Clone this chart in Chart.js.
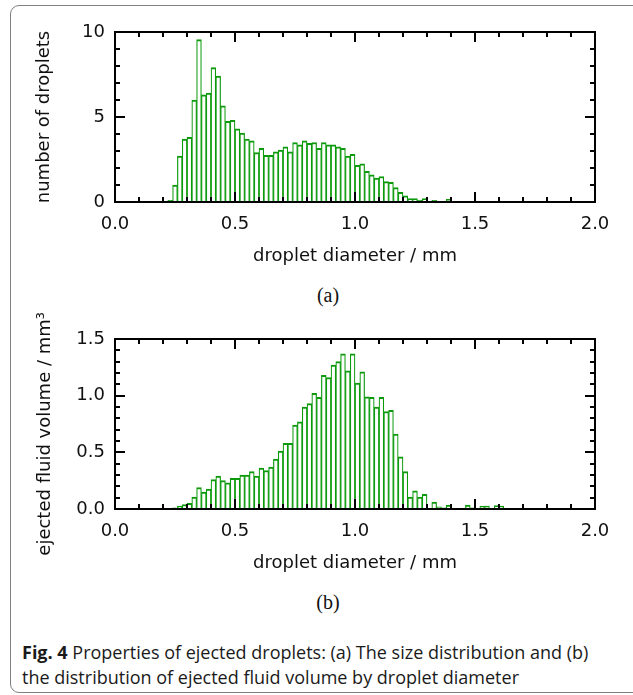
<!DOCTYPE html>
<html>
<head>
<meta charset="utf-8">
<script src="https://cdn.jsdelivr.net/npm/chart.js@4.4.1/dist/chart.umd.min.js"></script>
<style>
  html, body { margin: 0; padding: 0; background: #fff; }
  body { width: 633px; height: 695px; position: relative; overflow: hidden; }
  .frame { position: absolute; left: 10px; top: 5px; width: 700px; height: 686px;
           border: 1.5px solid #808080; border-radius: 9px; }
  .panel { position: absolute; left: 0; }
  .sub { position: absolute; width: 60px; text-align: center; color: #111;
         font-family: "Liberation Serif", "DejaVu Serif", serif; font-size: 20px; }
  .caption { position: absolute; left: 22px; top: 640px; width: 608px; color: #1a1a1a;
             font-family: "Liberation Sans Narrow", "Open Sans", sans-serif;
             font-size: 18px; line-height: 25px; }
</style>
</head>
<body>
<div class="frame"></div>
<canvas id="sizeDist" class="panel" width="633" height="267" style="top:0"></canvas>
<div class="sub" style="left:298px; top:284px">(a)</div>
<canvas id="volumeDist" class="panel" width="633" height="267" style="top:307px"></canvas>
<div class="sub" style="left:298px; top:591px">(b)</div>
<div class="caption"><b>Fig. 4</b> Properties of ejected droplets: (a) The size distribution and (b)<br>the distribution of ejected fluid volume by droplet diameter</div>

<script>
// lower edge of each 0.02 mm diameter bin
const binStart = [
  0.22, 0.24, 0.26, 0.28, 0.30, 0.32, 0.34, 0.36, 0.38, 0.40,
  0.42, 0.44, 0.46, 0.48, 0.50, 0.52, 0.54, 0.56, 0.58, 0.60,
  0.62, 0.64, 0.66, 0.68, 0.70, 0.72, 0.74, 0.76, 0.78, 0.80,
  0.82, 0.84, 0.86, 0.88, 0.90, 0.92, 0.94, 0.96, 0.98, 1.00,
  1.02, 1.04, 1.06, 1.08, 1.10, 1.12, 1.14, 1.16, 1.18, 1.20,
  1.22, 1.24, 1.26, 1.28, 1.30, 1.32, 1.34, 1.36, 1.38, 1.40,
  1.42, 1.44, 1.46, 1.48, 1.50, 1.52, 1.54, 1.56, 1.58, 1.60
];
const binWidth = 0.02;

// (a) number of droplets per bin
const dropletCount = [
  0.1, 1.0, 2.7, 3.7, 3.8, 6.0, 9.55, 6.3, 6.4, 7.9,
  7.4, 5.65, 4.75, 4.8, 4.3, 4.05, 3.7, 3.6, 2.9, 3.15,
  2.75, 2.75, 2.95, 3.05, 3.25, 2.95, 3.5, 3.37, 3.6, 3.45,
  3.5, 3.15, 3.5, 3.37, 3.37, 3.25, 3.15, 2.7, 2.8, 2.15,
  2.25, 1.8, 1.6, 1.4, 1.5, 1.2, 1.15, 0.85, 0.57, 0.37,
  0.2, 0.2, 0.12, 0.2, 0, 0.1, 0.03, 0.03, 0.15, 0,
  0, 0, 0, 0, 0, 0, 0, 0, 0, 0
];

// (b) ejected fluid volume per bin, mm^3
const fluidVolume = [
  0.005, 0.01, 0.026, 0.04, 0.05, 0.105, 0.19, 0.15, 0.175, 0.26,
  0.29, 0.25, 0.23, 0.27, 0.27, 0.30, 0.30, 0.33, 0.29, 0.36,
  0.34, 0.37, 0.44, 0.51, 0.58, 0.58, 0.74, 0.77, 0.90, 0.93,
  1.02, 0.985, 1.18, 1.16, 1.27, 1.30, 1.37, 1.22, 1.37, 1.11,
  1.21, 0.99, 0.985, 0.90, 0.985, 0.86, 0.87, 0.66, 0.46, 0.33,
  0.105, 0.16, 0.105, 0.13, 0.005, 0.06, 0.02, 0.01, 0.035, 0.005,
  0, 0.005, 0.035, 0.01, 0, 0.025, 0.025, 0.005, 0.03, 0.025
];

const xTickLabels = ['0.0', '0.5', '1.0', '1.5', '2.0'];
const countTickLabels = ['0', '5', '10'];
const volumeTickLabels = ['0.0', '0.5', '1.0', '1.5'];

Chart.defaults.font.family = 'DejaVu Sans';
Chart.defaults.font.size = 18;
Chart.defaults.color = '#111';

// gnuplot style box: full frame with inward major/minor ticks on all sides
const frameTicks = {
  id: 'frameTicks',
  afterDraw(chart, args, opts) {
    const { ctx, chartArea: a, scales: { x, y } } = chart;
    ctx.save();
    ctx.strokeStyle = '#000';
    ctx.lineWidth = 2;
    ctx.beginPath();
    x.ticks.forEach(t => {
      const px = Math.round(x.getPixelForValue(t.value));
      const len = t.label ? 10 : 5;
      ctx.moveTo(px, a.bottom); ctx.lineTo(px, a.bottom - len);
      ctx.moveTo(px, a.top); ctx.lineTo(px, a.top + len);
    });
    y.ticks.forEach(t => {
      const py = Math.round(y.getPixelForValue(t.value));
      const len = t.label ? 10 : 5;
      ctx.moveTo(a.left, py); ctx.lineTo(a.left + len, py);
      ctx.moveTo(a.right, py); ctx.lineTo(a.right - len, py);
    });
    ctx.stroke();
    ctx.strokeRect(a.left, a.top, a.width, a.height);

    // y label hung from just above the top of the frame, as gnuplot placed it
    if (opts.sideTitle) {
      ctx.translate(45, a.top - 27);
      ctx.rotate(-Math.PI / 2);
      ctx.font = '18px "DejaVu Sans"';
      ctx.fillStyle = '#111';
      ctx.textAlign = 'right';
      ctx.textBaseline = 'middle';
      ctx.fillText(opts.sideTitle, 0, 0);
    }
    ctx.restore();
  }
};

function histogram(id, values, yMax, yStep, yLabels, yDigits, yTitle, sideTitle) {
  return new Chart(document.getElementById(id), {
    type: 'bar',
    data: {
      datasets: [{
        data: binStart.map((s, i) => ({ x: s + binWidth / 2, y: values[i] })),
        backgroundColor: '#fff',
        borderColor: '#0c9a0c',
        borderWidth: { top: 2, left: 1.2, right: 1.2, bottom: 0 },
        borderSkipped: false,
        barPercentage: 1,
        categoryPercentage: 1
      }]
    },
    options: {
      responsive: false,
      animation: false,
      layout: { padding: { top: 32, right: 38, bottom: 0, left: 0 } },
      plugins: {
        legend: { display: false },
        tooltip: { enabled: false },
        frameTicks: { sideTitle: sideTitle }
      },
      scales: {
        x: {
          type: 'linear',
          min: 0, max: 2,
          offset: false,
          grid: { display: false, drawTicks: false },
          border: { display: false },
          ticks: {
            stepSize: 0.1,
            autoSkip: false,
            maxRotation: 0,
            padding: 12,
            callback: v => {
              const s = v.toFixed(1);
              return xTickLabels.includes(s) ? s : '';
            }
          },
          title: { display: true, text: 'droplet diameter / mm', padding: { top: 0, bottom: 0 } },
          afterFit: s => { s.height = 65; }
        },
        y: {
          min: 0, max: yMax,
          grid: { display: false, drawTicks: false },
          border: { display: false },
          ticks: {
            stepSize: yStep,
            autoSkip: false,
            padding: 10,
            callback: v => {
              const s = v.toFixed(yDigits);
              return yLabels.includes(s) ? s : '';
            }
          },
          title: { display: !!yTitle, text: yTitle, padding: { top: 34, bottom: 0 } },
          afterFit: s => { s.width = 115; }
        }
      }
    },
    plugins: [frameTicks]
  });
}

histogram('sizeDist', dropletCount, 10, 1, countTickLabels, 0, 'number of droplets', null);
histogram('volumeDist', fluidVolume, 1.5, 0.1, volumeTickLabels, 1, '', 'ejected fluid volume / mm³');
</script>
</body>
</html>
